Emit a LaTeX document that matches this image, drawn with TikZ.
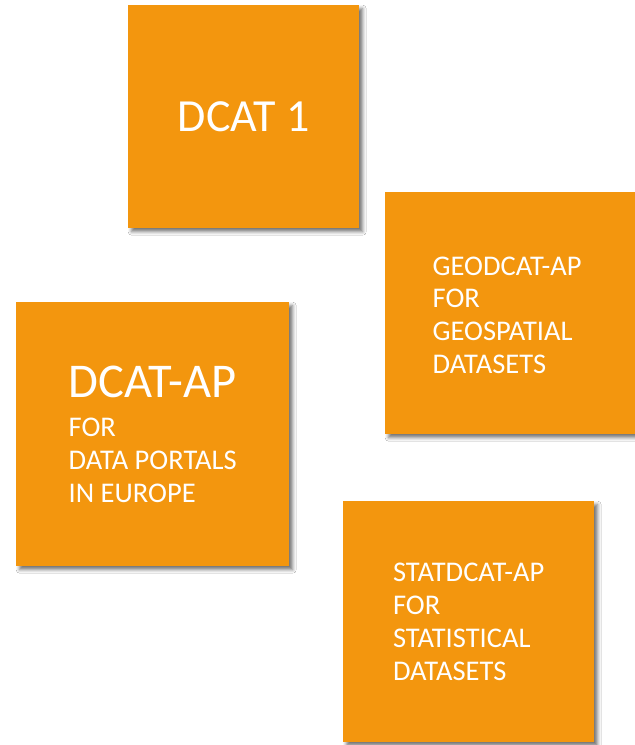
\documentclass[tikz,border=0pt]{standalone}
\usepackage{fontspec}
\setmainfont{Carlito}
\usepackage{xcolor}
\usepackage{tikz}
\usetikzlibrary{shadows.blur}

\definecolor{dcatorange}{RGB}{243,150,14}

\begin{document}
\begin{tikzpicture}[x=1pt,y=-1pt,
    card/.style={rectangle, fill=dcatorange, text=white, inner sep=0pt, anchor=north west,
      align=left, font=\fontsize{28.5}{32.8}\selectfont,
      blur shadow={shadow xshift=3.5pt, shadow yshift=-3.5pt, shadow blur radius=3.5pt, shadow opacity=55}},
    cardtext/.style={text=white, inner sep=0pt, align=left, font=\fontsize{28.5}{32.8}\selectfont}]
	\useasboundingbox[fill=white] (0,0) rectangle (635,745);
	% the four profiles
	\node[card, minimum width=231pt, minimum height=223pt, font=\fontsize{46}{46}\selectfont] (dcat) at (128,5) {DCAT 1};
	\node[card, minimum width=273pt, minimum height=264pt] (dcatap) at (16,302)
		{{\fontsize{48.5}{48.5}\selectfont DCAT-AP}\\[7pt] FOR\\ DATA PORTALS\\ IN EUROPE};
	\node[card, minimum width=256pt, minimum height=242pt] (geodcat) at (385,192) {};
	\node[cardtext] (geotext) at ([xshift=-6pt,yshift=-2pt]geodcat.center)
		{GEODCAT-AP\\ FOR\\ GEOSPATIAL\\ DATASETS};
	\node[card, minimum width=251pt, minimum height=241pt] (statdcat) at (343,501)
		{STATDCAT-AP\\ FOR\\ STATISTICAL\\ DATASETS};
\end{tikzpicture}
\end{document}
